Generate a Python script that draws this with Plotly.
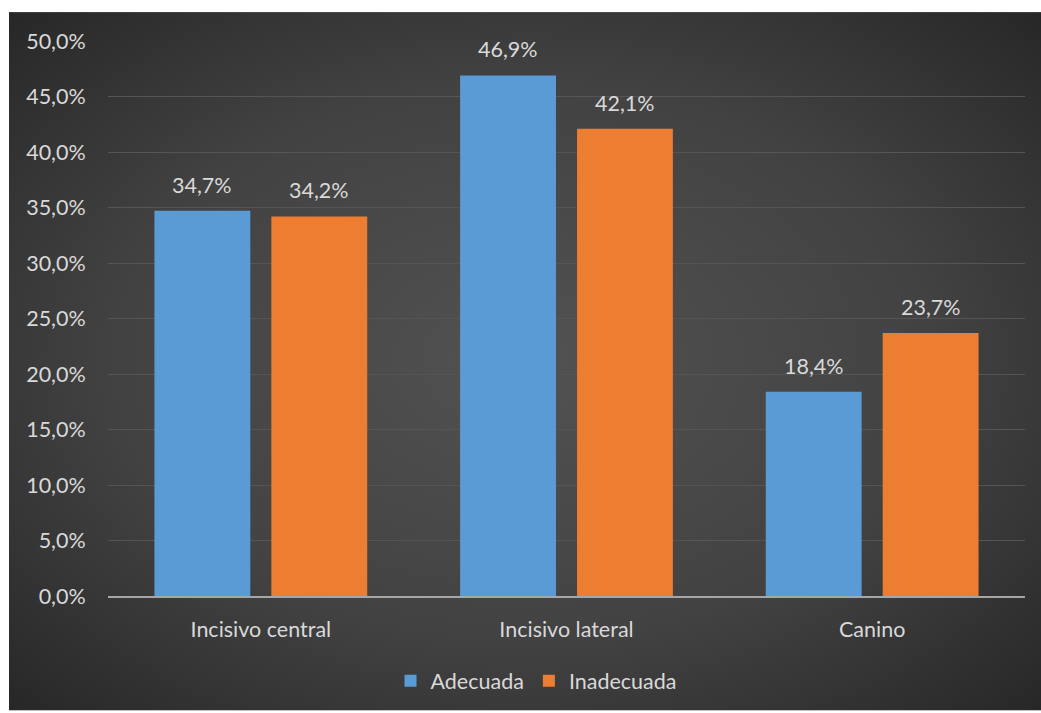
import base64
import plotly.graph_objects as go

# Chart data
categories = ["Incisivo central", "Incisivo lateral", "Canino"]
adecuada = [34.7, 46.9, 18.4]
inadecuada = [34.2, 42.1, 23.7]
y_ticks = [0, 5, 10, 15, 20, 25, 30, 35, 40, 45, 50]
y_tick_labels = [f"{v:.1f}%".replace(".", ",") for v in y_ticks]

W, H = 1041, 713
ML, MR, MT, MB = 108, 16, 41, 115
PW, PH = W - ML - MR, H - MT - MB

BARGAP, GROUPGAP = 0.235, 0.18
# pixel offset of each bar centre from its category centre
slot_px = PW / len(categories) * (1 - BARGAP) / 2
offsets = {"Adecuada": -slot_px / 2, "Inadecuada": slot_px / 2}

# Dark radial-gradient panel behind the chart
svg = """<svg xmlns='http://www.w3.org/2000/svg' width='1032' height='701' viewBox='0 0 1032 701' preserveAspectRatio='none'>
<defs><radialGradient id='g' cx='50%' cy='50%' r='72%'>
<stop offset='0%' stop-color='#525252'/>
<stop offset='55%' stop-color='#424242'/>
<stop offset='100%' stop-color='#262626'/>
</radialGradient></defs>
<rect width='1032' height='701' fill='url(#g)'/></svg>"""
bg_uri = "data:image/svg+xml;base64," + base64.b64encode(svg.encode()).decode()

text_color = "#d9d9d9"
font_family = "Lato, 'Open Sans', sans-serif"
FS = 21.5

fig = go.Figure()
series = [("Adecuada", adecuada, "#5b9bd5"), ("Inadecuada", inadecuada, "#ed7d31")]
annotations = []
for name, vals, color in series:
    fig.add_trace(go.Bar(
        x=categories, y=vals, name=name,
        marker=dict(color=color, line=dict(width=0)),
    ))
    for cat, v in zip(categories, vals):
        annotations.append(dict(
            x=cat, y=v, xref="x", yref="y",
            text=f"{v:.1f}%".replace(".", ","),
            showarrow=False, xanchor="center", yanchor="bottom",
            xshift=offsets[name], yshift=11,
            font=dict(color=text_color, size=FS, family=font_family),
        ))

fig.update_layout(
    width=W, height=H,
    margin=dict(l=ML, r=MR, t=MT, b=MB, pad=0),
    paper_bgcolor="white",
    plot_bgcolor="rgba(0,0,0,0)",
    separators=",.",
    barmode="group",
    bargap=BARGAP,
    bargroupgap=GROUPGAP,
    font=dict(family=font_family, color=text_color, size=FS),
    annotations=annotations,
    images=[dict(
        source=bg_uri, xref="paper", yref="paper",
        x=-(ML - 9) / PW, y=1 + (MT - 12) / PH,
        sizex=(W - 9) / PW, sizey=(H - 12) / PH,
        xanchor="left", yanchor="top", sizing="stretch", layer="below",
    )],
    legend=dict(
        orientation="h", x=(536 - ML) / PW, xanchor="center",
        y=-(683 - 598) / PH, yanchor="middle",
        font=dict(color=text_color, size=FS, family=font_family),
        bgcolor="rgba(0,0,0,0)", itemwidth=30, traceorder="normal",
    ),
    showlegend=True,
)

fig.update_xaxes(
    showgrid=False, showline=True, linecolor="#a6a6a6", linewidth=2,
    ticks="outside", ticklen=13, tickcolor="rgba(0,0,0,0)",
    tickfont=dict(color=text_color, size=FS, family=font_family),
)
fig.update_yaxes(
    range=[0, 50], tickvals=y_ticks, ticktext=y_tick_labels,
    showgrid=True, gridcolor="#555555", gridwidth=1,
    zeroline=False, showline=False,
    ticks="outside", ticklen=17, tickcolor="rgba(0,0,0,0)",
    tickfont=dict(color=text_color, size=FS, family=font_family),
)

fig.write_html("out.html")
